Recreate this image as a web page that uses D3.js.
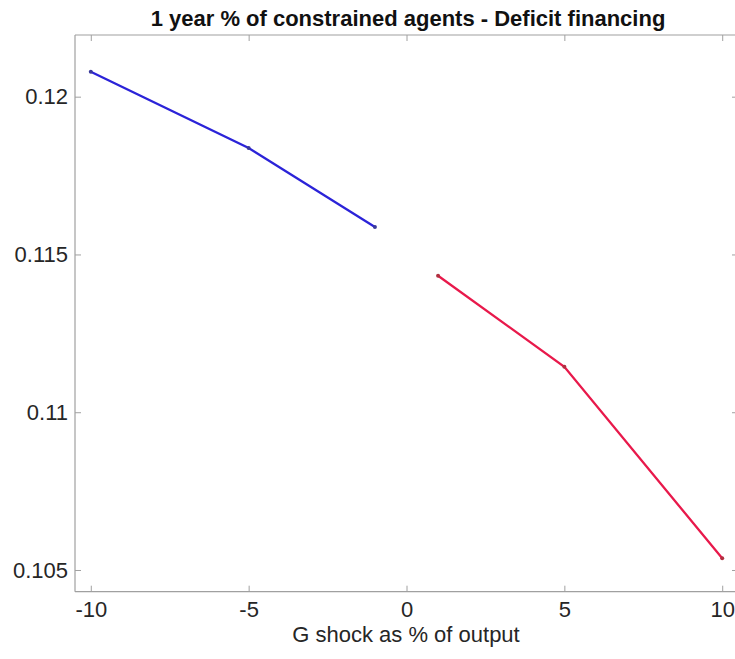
<!DOCTYPE html>
<html>
<head>
<meta charset="utf-8">
<script src="https://cdn.jsdelivr.net/npm/d3@7"></script>
<style>
html,body{margin:0;padding:0;background:#fff;}
svg{display:block;}
</style>
</head>
<body>
<svg id="chart" width="735" height="659"></svg>
<script>
const title = "1 year % of constrained agents - Deficit financing";
const xLabel = "G shock as % of output";
const negShock = [-10, -5, -1];
const negValues = [0.120792, 0.118374, 0.115871];
const posShock = [1, 5, 10];
const posValues = [0.114325, 0.111441, 0.105371];
const xTicks = [-10, -5, 0, 5, 10];
const yTicks = [0.105, 0.11, 0.115, 0.12];

(function () {
const svg = d3.select("#chart");
const mLeft = 75, mRight = 738, mTop = 35, mBottom = 591.7;
const x = d3.scaleLinear().domain([-10.5, 10.5]).range([mLeft, mRight]);
const y = d3.scaleLinear().domain([0.104312, 0.121955]).range([mBottom, mTop]);

const axisColor = "#a0a0a0";
const textColor = "#262626";
const font = "Liberation Sans, Arial, sans-serif";
const fs = 22;

const gx = svg.append("g").attr("transform", `translate(0,${mBottom})`)
  .call(d3.axisBottom(x).tickValues(xTicks).tickFormat(d => String(d)).tickSizeInner(-6).tickSizeOuter(0).tickPadding(10));
const gxt = svg.append("g").attr("transform", `translate(0,${mTop})`)
  .call(d3.axisTop(x).tickValues(xTicks).tickFormat("").tickSizeInner(-6).tickSizeOuter(0));
const gy = svg.append("g").attr("transform", `translate(${mLeft},0)`)
  .call(d3.axisLeft(y).tickValues(yTicks).tickFormat(d => String(+d.toFixed(3))).tickSizeInner(-6).tickSizeOuter(0).tickPadding(7));
const gyr = svg.append("g").attr("transform", `translate(${mRight},0)`)
  .call(d3.axisRight(y).tickValues(yTicks).tickFormat("").tickSizeInner(-6).tickSizeOuter(0));

[gx, gxt, gy, gyr].forEach(g => {
  g.select(".domain").attr("stroke", axisColor).attr("stroke-width", 1.2);
  g.selectAll(".tick line").attr("stroke", axisColor).attr("stroke-width", 1);
  g.selectAll(".tick text").attr("fill", textColor).attr("font-family", font).attr("font-size", fs);
});
gx.select(".domain").attr("d", `M${mLeft},0H${mRight}`);
gxt.select(".domain").attr("d", `M${mLeft},0H${mRight}`);
gy.select(".domain").attr("d", `M0,${mTop}V${mBottom}`);
gyr.select(".domain").attr("d", `M0,${mTop}V${mBottom}`);

const line = d3.line().x(d => x(d[0])).y(d => y(d[1]));
const negData = negShock.map((s, i) => [s, negValues[i]]);
const posData = posShock.map((s, i) => [s, posValues[i]]);

svg.append("path").datum(negData).attr("d", line)
  .attr("fill", "none").attr("stroke", "#2b23d8").attr("stroke-width", 2.3);
svg.append("path").datum(posData).attr("d", line)
  .attr("fill", "none").attr("stroke", "#e8194b").attr("stroke-width", 2.3);

svg.selectAll(".mneg").data(negData).enter().append("circle")
  .attr("cx", d => x(d[0])).attr("cy", d => y(d[1])).attr("r", 2).attr("fill", "#3a3a9a");
svg.selectAll(".mpos").data(posData).enter().append("circle")
  .attr("cx", d => x(d[0])).attr("cy", d => y(d[1])).attr("r", 2).attr("fill", "#b03040");

svg.append("text").attr("x", 408).attr("y", 26)
  .attr("text-anchor", "middle").attr("font-family", font).attr("font-weight", "bold")
  .attr("font-size", fs).attr("fill", "#111").text(title);

svg.append("text").attr("x", 406).attr("y", 642)
  .attr("text-anchor", "middle").attr("font-family", font)
  .attr("font-size", fs).attr("fill", textColor).text(xLabel);
})();
</script>
</body>
</html>
